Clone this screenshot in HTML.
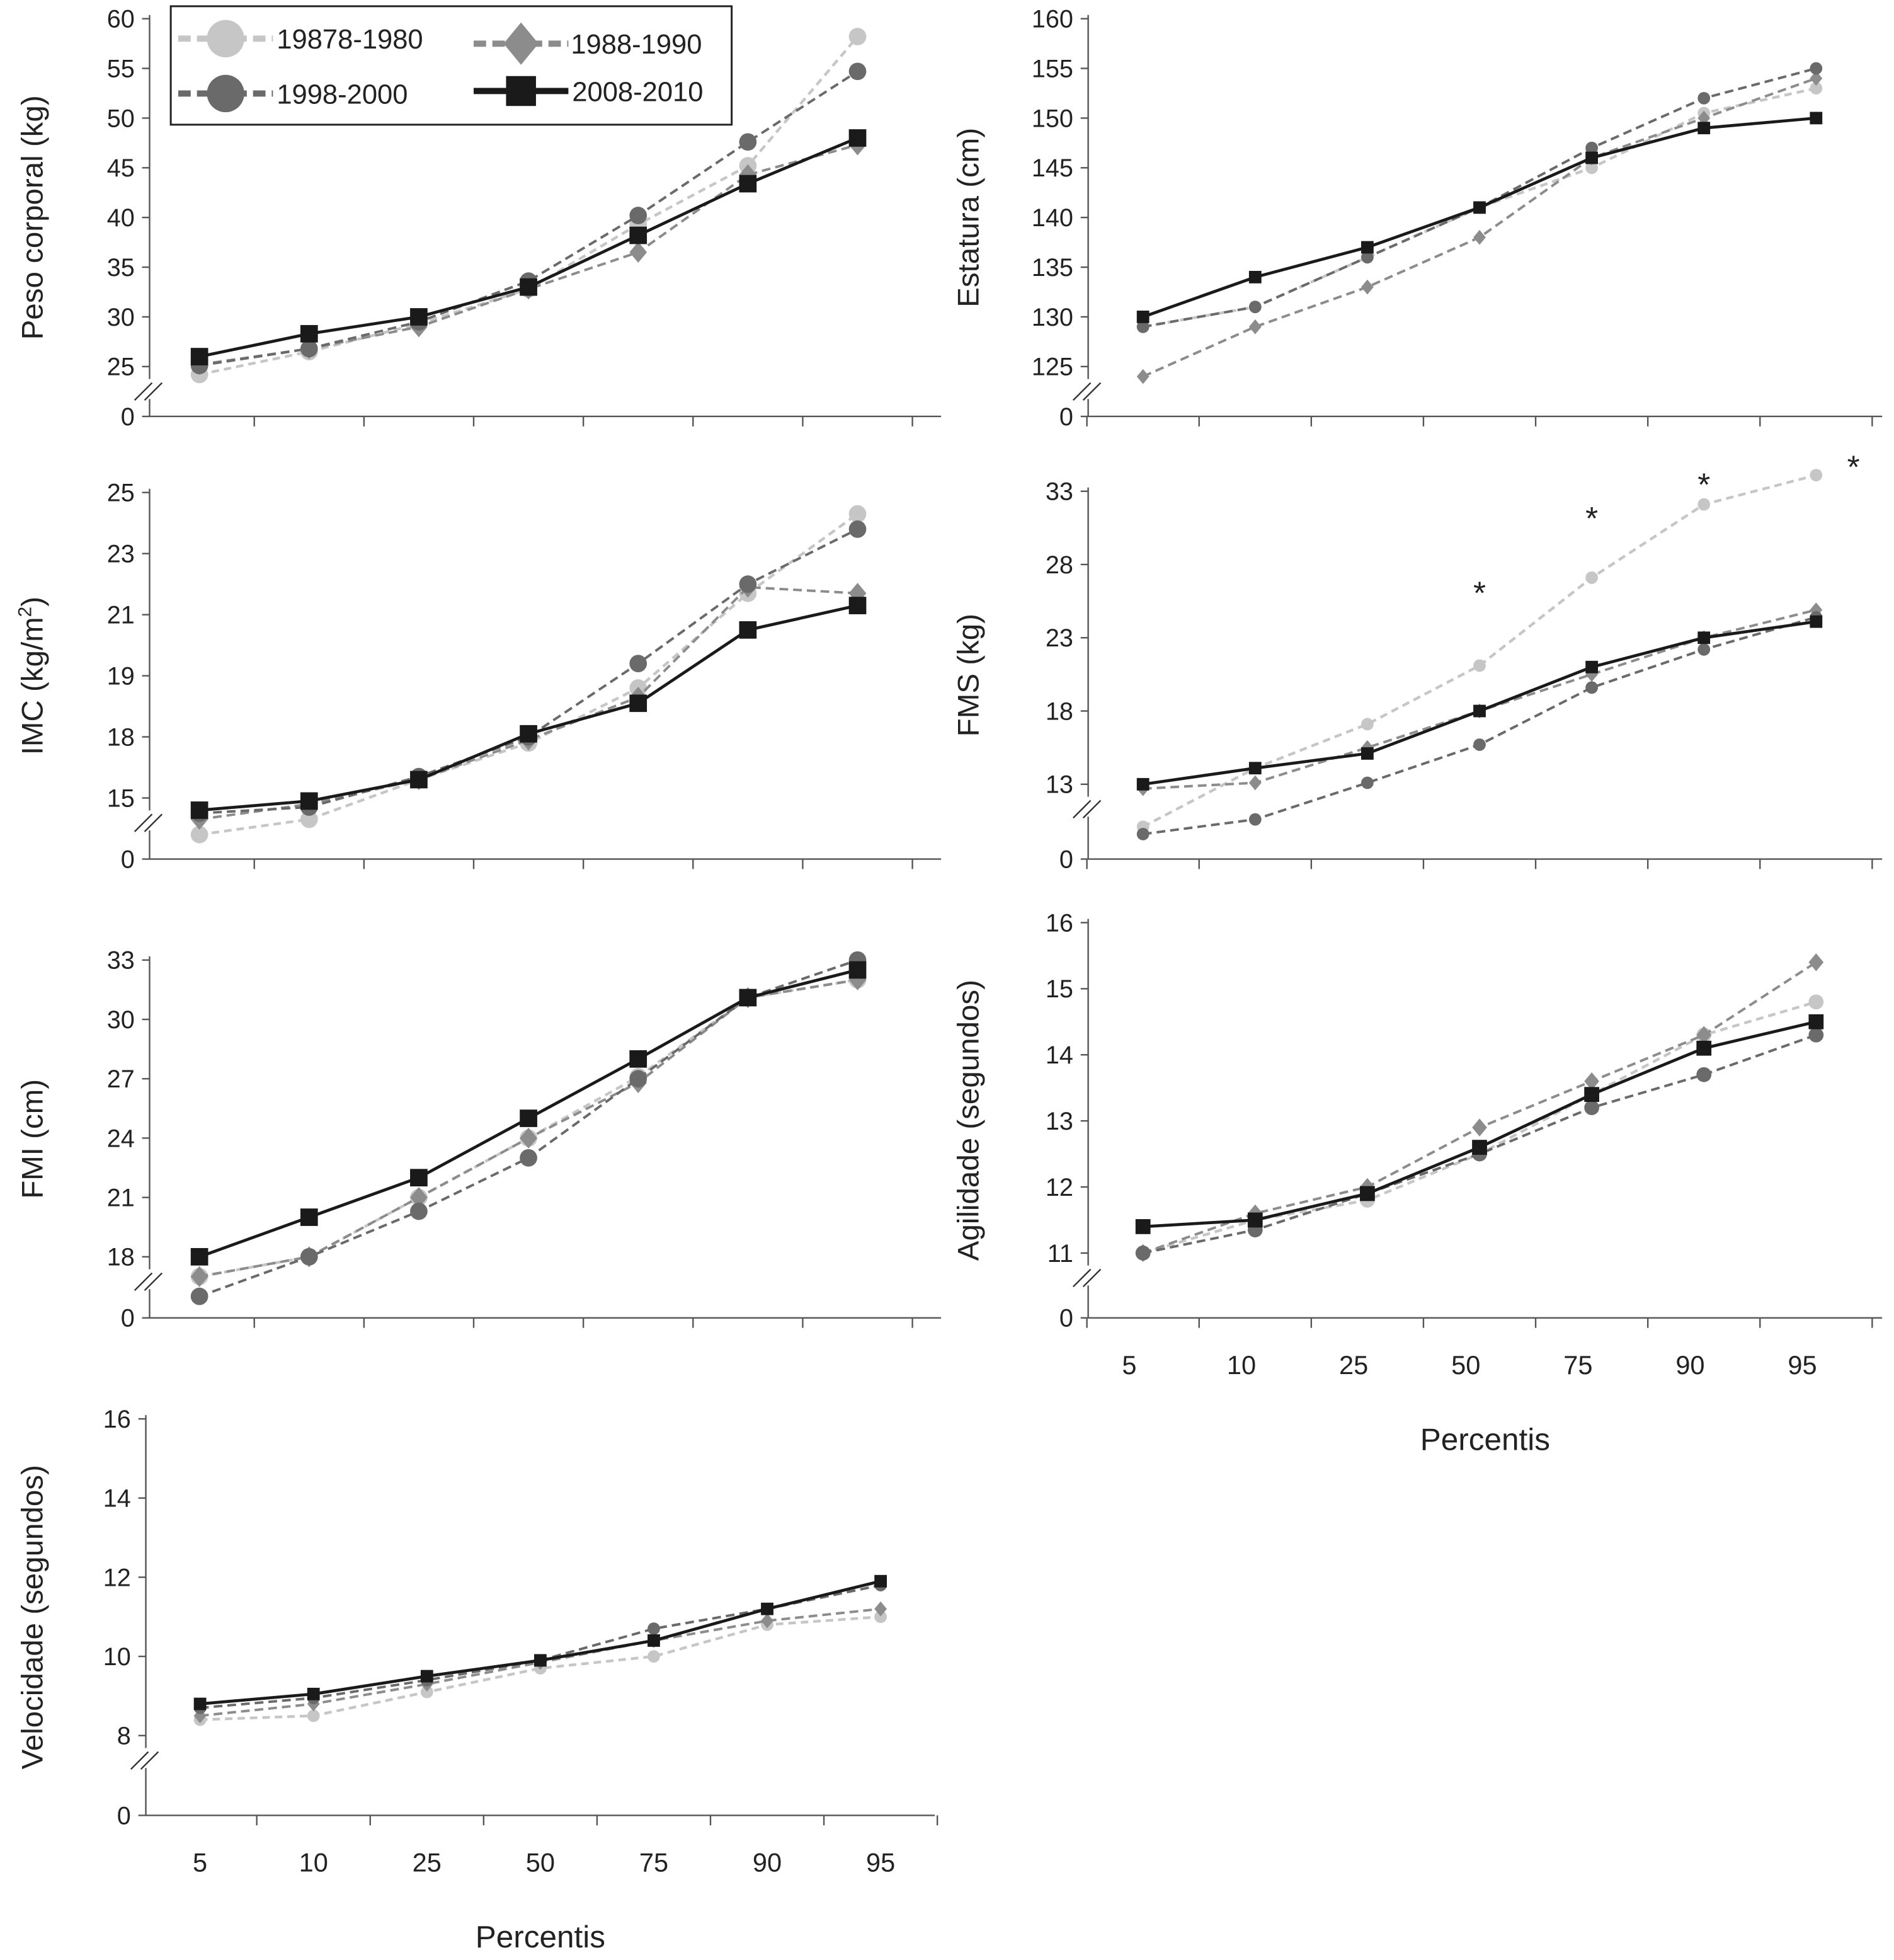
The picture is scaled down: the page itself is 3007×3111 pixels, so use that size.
<!DOCTYPE html>
<html><head><meta charset="utf-8"><style>
html,body{margin:0;padding:0;background:#fff;}
svg{display:block;font-family:"Liberation Sans",sans-serif;}
</style></head><body>
<svg id="chart" width="3007" height="3111" viewBox="0 0 1519.5 1572" preserveAspectRatio="none" xmlns="http://www.w3.org/2000/svg"></svg>
<script>
const categories = ["5","10","25","50","75","90","95"];
// Peso corporal
const peso1978 = [24.2,26.5,29.3,32.8,39.3,45.2,58.2];
const peso1988 = [25.2,26.8,29,32.8,36.5,44.3,47.3];
const peso1998 = [25.1,26.8,29.5,33.6,40.2,47.6,54.7];
const peso2008 = [26,28.3,30,33,38.2,43.4,48];
const pesoTicks = [25,30,35,40,45,50,55,60];
// Estatura
const est1978 = [129,131,136,141,145,150.5,153];
const est1988 = [124,129,133,138,146,150,154];
const est1998 = [129,131,136,141,147,152,155];
const est2008 = [130,134,137,141,146,149,150];
const estTicks = [125,130,135,140,145,150,155,160];
// IMC (axis tick positions with printed labels)
const imc1978 = [13.8,14.3,15.6,16.8,18.6,21.7,24.3];
const imc1988 = [14.3,14.8,15.6,16.9,18.3,21.9,21.7];
const imc1998 = [14.5,14.7,15.7,17.0,19.4,22.0,23.8];
const imc2008 = [14.6,14.9,15.6,17.1,18.1,20.5,21.3];
const imcTicks = [15,17,19,21,23,25];
const imcTickLabels = ["15","18","19","21","23","25"];
// FMS
const fms1978 = [10.1,14.1,17.1,21.1,27.1,32.1,34.1];
const fms1988 = [12.7,13.1,15.5,18,20.5,23,24.9];
const fms1998 = [9.6,10.6,13.1,15.7,19.6,22.2,24.4];
const fms2008 = [13,14.1,15.1,18,21,23,24.1];
const fmsTicks = [13,18,23,28,33];
const fmsStars = [null,null,null,26.5,31.6,33.9,35.1];
// FMI
const fmi1978 = [17,18,21,24,27.1,31.1,32];
const fmi1988 = [17,18,21,24,26.8,31.1,32];
const fmi1998 = [16,18,20.3,23,27,31.1,33];
const fmi2008 = [18,20,22,25,28,31.1,32.5];
const fmiTicks = [18,21,24,27,30,33];
// Agilidade
const agi1978 = [11,11.5,11.8,12.5,13.4,14.3,14.8];
const agi1988 = [11,11.6,12,12.9,13.6,14.3,15.4];
const agi1998 = [11,11.35,11.9,12.5,13.2,13.7,14.3];
const agi2008 = [11.4,11.5,11.9,12.6,13.4,14.1,14.5];
const agiTicks = [11,12,13,14,15,16];
// Velocidade
const vel1978 = [8.4,8.5,9.1,9.7,10.0,10.8,11.0];
const vel1988 = [8.5,8.8,9.3,9.85,10.4,10.9,11.2];
const vel1998 = [8.7,8.95,9.4,9.9,10.7,11.2,11.8];
const vel2008 = [8.8,9.05,9.5,9.9,10.4,11.2,11.9];
const velTicks = [8,10,12,14,16];

const NS="http://www.w3.org/2000/svg";
const svg=document.getElementById('chart');
function el(tag,attrs,parent,text){const e=document.createElementNS(NS,tag);for(const k in attrs)e.setAttribute(k,attrs[k]);if(text!==undefined)e.textContent=text;(parent||svg).appendChild(e);return e;}

const styles={
 s1978:{color:"#c6c6c6",dash:"6,4",shape:"circle",w:2.2},
 s1988:{color:"#8c8c8c",dash:"7,4",shape:"diamond",w:2},
 s1998:{color:"#6a6a6a",dash:"7,4",shape:"circle",w:2},
 s2008:{color:"#1a1a1a",dash:"",shape:"square",w:2.4}
};

function panel(cfg){
 const g=el('g',{});
 
 
 const {ax,axEnd,top,topVal,minVal,minY,zeroY,step,x0}=cfg;
 const ys=v=>minY-(v-minVal)*(minY-top)/(topVal-minVal);
 const xs=i=>x0+(i+0.5)*step;
 const ya=el('line',{x1:ax,y1:top-3,x2:ax,y2:zeroY,stroke:"#555","stroke-width":1.2},g);
 
 const xa=el('line',{x1:ax,y1:zeroY,x2:axEnd,y2:zeroY,stroke:"#555","stroke-width":1.2},g);
 
 el('rect',{x:ax-12,y:minY+10,width:24,height:16,fill:"#fff"},g);
 el('line',{x1:ax-12,y1:minY+27,x2:ax+2,y2:minY+13,stroke:"#333","stroke-width":1.2},g);
 el('line',{x1:ax-4,y1:minY+27,x2:ax+10,y2:minY+13,stroke:"#333","stroke-width":1.2},g);
 cfg.ticks.forEach((t,i)=>{const y=ys(t);
  el('line',{x1:ax-6,y1:y,x2:ax,y2:y,stroke:"#555","stroke-width":1.2},g);
  const tl=el('text',{x:ax-12,y:y+7,"text-anchor":"end","font-size":20,fill:"#222"},g,cfg.labels?cfg.labels[i]:String(t));
  });
 el('line',{x1:ax-6,y1:zeroY,x2:ax,y2:zeroY,stroke:"#555","stroke-width":1.2},g);
 const z=el('text',{x:ax-12,y:zeroY+7,"text-anchor":"end","font-size":20,fill:"#222"},g,"0");
 
 for(let i=0;i<=categories.length;i++){const x=x0+i*step; if(x<ax-1)continue;
  el('line',{x1:x,y1:zeroY,x2:x,y2:zeroY+8,stroke:"#555","stroke-width":1.2},g);}
 if(cfg.xlabels){const off=cfg.labelOff||0;categories.forEach((c,i)=>{const t=el('text',{x:xs(i)+off,y:zeroY+45,"text-anchor":"middle","font-size":21,fill:"#222"},g,c);
  });
  const p=el('text',{x:(ax+axEnd)/2,y:zeroY+106,"text-anchor":"middle","font-size":25,fill:"#222"},g,"Percentis");
  }
 const yt=el('text',{x:0,y:0,"text-anchor":"middle","font-size":24,fill:"#222",transform:`translate(${cfg.titleX},${(top+zeroY)/2}) rotate(-90)`},g,cfg.title);
 
 if(cfg.sup){el('tspan',{"font-size":15,dy:-9},yt,cfg.sup);el('tspan',{"font-size":24,dy:9},yt,")");}
 const ms=cfg.ms;
 cfg.series.forEach(([key,vals])=>{const st=styles[key];
  const pts=vals.map((v,i)=>xs(i)+","+ys(v)).join(" ");
  const pl=el('polyline',{points:pts,fill:"none",stroke:st.color,"stroke-width":st.w,"stroke-dasharray":st.dash},g);
  
  vals.forEach((v,i)=>{const x=xs(i),y=ys(v);let m;
   if(st.shape==="circle")m=el('circle',{cx:x,cy:y,r:ms,fill:st.color},g);
   else if(st.shape==="square")m=el('rect',{x:x-ms,y:y-ms,width:2*ms,height:2*ms,fill:st.color},g);
   else m=el('polygon',{points:`${x},${y-ms*1.2} ${x+ms},${y} ${x},${y+ms*1.2} ${x-ms},${y}`,fill:st.color},g);
   });
 });
 if(cfg.stars){cfg.stars.forEach((v,i)=>{if(v===null)return;const dx=i===6?30:0;
  const s=el('text',{x:xs(i)+dx,y:ys(v)+14,"text-anchor":"middle","font-size":26,fill:"#222"},g,"*");
  });}
 return g;
}

panel({name:"peso-panel",ax:120,axEnd:755,top:15,topVal:60,minVal:25,minY:294,zeroY:334,step:88,x0:116,ticks:pesoTicks,title:"Peso corporal (kg)",titleX:34,ms:7,
 series:[["s1978",peso1978],["s1988",peso1988],["s1998",peso1998],["s2008",peso2008]]});
panel({name:"estatura-panel",ax:873,axEnd:1510,top:15,topVal:160,minVal:125,minY:294,zeroY:334,step:90,x0:872,ticks:estTicks,title:"Estatura (cm)",titleX:785,ms:5,
 series:[["s1978",est1978],["s1988",est1988],["s1998",est1998],["s2008",est2008]]});
panel({name:"imc-panel",ax:120,axEnd:755,top:395,topVal:25,minVal:15,minY:640,zeroY:689,step:88,x0:116,ticks:imcTicks,labels:imcTickLabels,title:"IMC (kg/m",sup:"2",titleX:34,ms:7,
 series:[["s1978",imc1978],["s1988",imc1988],["s1998",imc1998],["s2008",imc2008]]});
panel({name:"fms-panel",ax:873,axEnd:1510,top:394,topVal:33,minVal:13,minY:629,zeroY:689,step:90,x0:872,ticks:fmsTicks,title:"FMS (kg)",titleX:785,ms:5,stars:fmsStars,
 series:[["s1978",fms1978],["s1988",fms1988],["s1998",fms1998],["s2008",fms2008]]});
panel({name:"fmi-panel",ax:120,axEnd:755,top:770,topVal:33,minVal:18,minY:1008,zeroY:1057,step:88,x0:116,ticks:fmiTicks,title:"FMI (cm)",titleX:34,ms:7,
 series:[["s1978",fmi1978],["s1988",fmi1988],["s1998",fmi1998],["s2008",fmi2008]]});
panel({name:"agilidade-panel",ax:873,axEnd:1510,top:740,topVal:16,minVal:11,minY:1005,zeroY:1057,step:90,x0:872,labelOff:-11,ticks:agiTicks,title:"Agilidade (segundos)",titleX:785,ms:6,xlabels:true,
 series:[["s1978",agi1978],["s1988",agi1988],["s1998",agi1998],["s2008",agi2008]]});
panel({name:"velocidade-panel",ax:117,axEnd:750,top:1138,topVal:16,minVal:8,minY:1392,zeroY:1456,step:91,x0:115,ticks:velTicks,title:"Velocidade (segundos)",titleX:34,ms:5,xlabels:true,
 series:[["s1978",vel1978],["s1988",vel1988],["s1998",vel1998],["s2008",vel2008]]});

const lg=el('g',{});


el('rect',{x:137,y:5,width:450,height:95,fill:"#fff",stroke:"#222","stroke-width":1.5},lg);
const entries=[["s1978","19878-1980",143,31],["s1988","1988-1990",380,35],["s1998","1998-2000",143,75],["s2008","2008-2010",380,73]];
entries.forEach(([k,label,x,y])=>{const st=styles[k];
 const e=el('g',{},lg);
 
 
 el('line',{x1:x,y1:y,x2:x+76,y2:y,stroke:st.color,"stroke-width":5,"stroke-dasharray":st.dash?"10,5":""},e);
 const cx=x+38;
 if(st.shape==="circle")el('circle',{cx:cx,cy:y,r:15,fill:st.color},e);
 else if(st.shape==="square")el('rect',{x:cx-12,y:y-12,width:24,height:24,fill:st.color},e);
 else el('polygon',{points:`${cx},${y-17} ${cx+14},${y} ${cx},${y+17} ${cx-14},${y}`,fill:st.color},e);
 el('text',{x:x+(k==="s1988"?78:79),y:y+8,"font-size":22,fill:"#222"},e,label);
});
</script>
</body></html>
